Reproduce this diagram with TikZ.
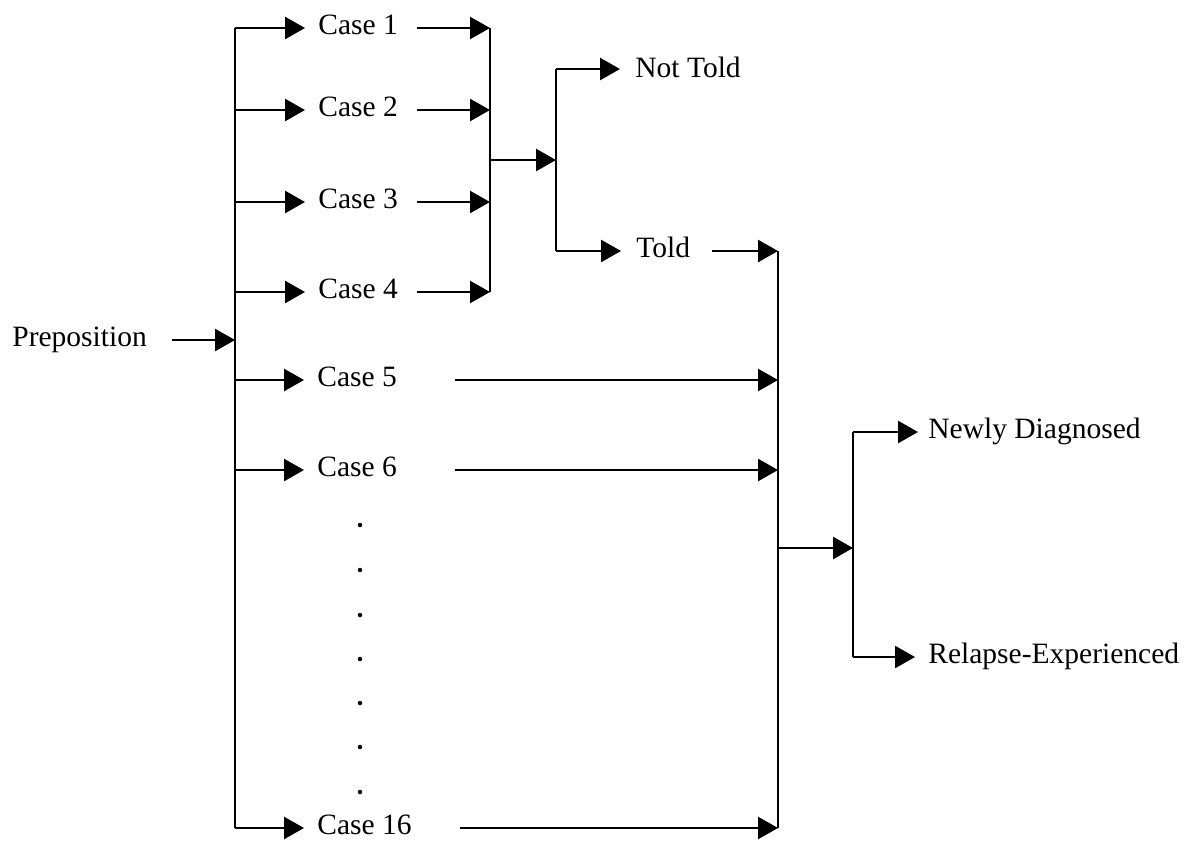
\documentclass[tikz,border=0pt]{standalone}
\usepackage{fontspec}
\setmainfont{Liberation Serif}
\usetikzlibrary{arrows.meta, positioning, calc}

\begin{document}
\begin{tikzpicture}[x=0.02cm, y=-0.02cm,
    every node/.style={font=\fontsize{16.8}{20}\selectfont},
    lbl/.style={anchor=west, inner sep=0pt, text height=1.5ex, text depth=0pt},
    arr/.style={-{Triangle[length=0.4cm, width=0.44cm]}, line width=1.5pt},
    bus/.style={line width=1.5pt}
]
\useasboundingbox (0,0) rectangle (1191,843);

\node[lbl] (prep) at (12,340) {Preposition};
\node[lbl] (c1) at (318,28) {Case 1};
\node[lbl] (c2) at (318,110) {Case 2};
\node[lbl] (c3) at (318,202) {Case 3};
\node[lbl] (c4) at (318,292) {Case 4};
\node[lbl] (c5) at (317,380) {Case 5};
\node[lbl] (c6) at (317,470) {Case 6};
\node[lbl] (c16) at (317,828) {Case 16};
\node[lbl] (nottold) at (635,71) {Not Told};
\node[lbl] (told) at (636,251) {Told};
\node[lbl] (newly) at (928,432) {Newly Diagnosed};
\node[lbl] (relapse) at (928,657) {Relapse-Experienced};

% bus lines
\coordinate (b1t) at (235,28);  \coordinate (b1b) at (235,828);
\coordinate (b2t) at (490,28);  \coordinate (b2b) at (490,292);
\coordinate (b2m) at (490,160);
\coordinate (b3t) at (556,69);  \coordinate (b3b) at (556,251);
\coordinate (b4t) at (778,251); \coordinate (b4b) at (778,828);
\coordinate (b4m) at (778,548);
\coordinate (b5t) at (853,432); \coordinate (b5b) at (853,657);
\draw[bus] (b1t) -- (b1b);
\draw[bus] (b2t) -- (b2b);
\draw[bus] (b3t) -- (b3b);
\draw[bus] (b4t) -- (b4b);
\draw[bus] (b5t) -- (b5b);

\draw[arr, shorten <=0.5cm] (prep.east) -- (prep -| b1t);
\foreach \c in {c1,c2,c3,c4,c5,c6,c16}
  \draw[arr, shorten >=0.26cm] (\c -| b1t) -- (\c.west);
\foreach \c in {c1,c2,c3,c4}
  \draw[arr, shorten <=0.38cm] (\c.east) -- (\c -| b2t);
\draw[arr] (b2m) -- (b2m -| b3t);
\draw[arr, shorten >=0.3cm] (b3t) -- (b3t -| nottold.west);
\draw[arr, shorten >=0.3cm] (b3b) -- (told.west);
\draw[arr, shorten <=0.44cm] (told.east) -- (b4t);
\draw[arr, shorten <=1.16cm] (c5.east) -- (c5 -| b4t);
\draw[arr, shorten <=1.16cm] (c6.east) -- (c6 -| b4t);
\draw[arr, shorten <=0.96cm] (c16.east) -- (c16 -| b4t);
\draw[arr] (b4m) -- (b4m -| b5t);
\draw[arr, shorten >=0.2cm] (b5t) -- (newly.west);
\draw[arr, shorten >=0.26cm] (b5b) -- (relapse.west);

\foreach \y in {525,570,615,659,703,747,792}
  \fill (360,\y) circle (0.045cm);
\end{tikzpicture}
\end{document}
